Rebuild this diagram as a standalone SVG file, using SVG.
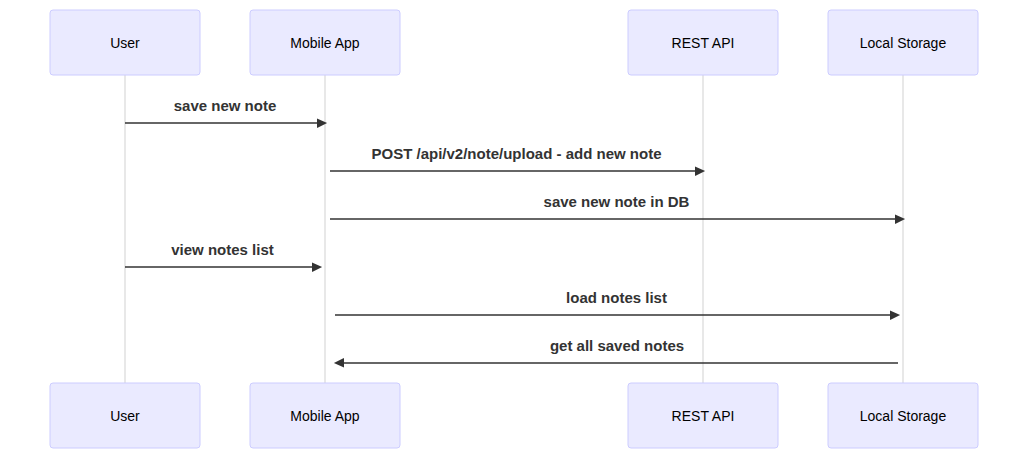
<svg xmlns="http://www.w3.org/2000/svg" width="1028" height="449" viewBox="0 0 1028 449">
<style>
.actor{fill:#eaeaff;stroke:#ccccff;stroke-width:1}
.atext{font-family:"Liberation Sans",Arial,sans-serif;font-size:14px;fill:#000;text-anchor:middle;dominant-baseline:central}
.life{stroke:#e0e0e0;stroke-width:1.5}
.msg{stroke:#333;stroke-width:1.5;fill:none;marker-end:url(#arrowhead)}
.mtext{font-family:"Liberation Sans",Arial,sans-serif;font-size:15px;font-weight:bold;fill:#333;text-anchor:middle}
</style>
<defs>
<marker id="arrowhead" refX="7.9" refY="5" markerUnits="userSpaceOnUse" markerWidth="12" markerHeight="12" orient="auto-start-reverse">
<path d="M -1 0 L 10 5 L 0 10 z" fill="#333"/>
</marker>
</defs>
<rect width="1028" height="449" fill="#fff"/>
<g id="lifelines">
<line class="life" x1="125" y1="75" x2="125" y2="383"/>
<line class="life" x1="325" y1="75" x2="325" y2="383"/>
<line class="life" x1="703" y1="75" x2="703" y2="383"/>
<line class="life" x1="903" y1="75" x2="903" y2="383"/>
</g>
<g id="user-top"><rect class="actor" x="50" y="10" width="150" height="65" rx="3"/><text class="atext" x="125" y="42.5">User</text></g>
<g id="app-top"><rect class="actor" x="250" y="10" width="150" height="65" rx="3"/><text class="atext" x="325" y="42.5">Mobile App</text></g>
<g id="api-top"><rect class="actor" x="628" y="10" width="150" height="65" rx="3"/><text class="atext" x="703" y="42.5">REST API</text></g>
<g id="storage-top"><rect class="actor" x="828" y="10" width="150" height="65" rx="3"/><text class="atext" x="903" y="42.5">Local Storage</text></g>
<g id="user-bottom"><rect class="actor" x="50" y="383" width="150" height="65" rx="3"/><text class="atext" x="125" y="415.5">User</text></g>
<g id="app-bottom"><rect class="actor" x="250" y="383" width="150" height="65" rx="3"/><text class="atext" x="325" y="415.5">Mobile App</text></g>
<g id="api-bottom"><rect class="actor" x="628" y="383" width="150" height="65" rx="3"/><text class="atext" x="703" y="415.5">REST API</text></g>
<g id="storage-bottom"><rect class="actor" x="828" y="383" width="150" height="65" rx="3"/><text class="atext" x="903" y="415.5">Local Storage</text></g>
<g id="connectors">
<line class="msg" x1="125" y1="123" x2="325" y2="123"/>
<text class="mtext" x="225" y="111">save new note</text>
<line class="msg" x1="330" y1="171" x2="703" y2="171"/>
<text class="mtext" x="516.5" y="159">POST /api/v2/note/upload - add new note</text>
<line class="msg" x1="330" y1="219" x2="903" y2="219"/>
<text class="mtext" x="616.5" y="207">save new note in DB</text>
<line class="msg" x1="125" y1="267" x2="320" y2="267"/>
<text class="mtext" x="222.5" y="255">view notes list</text>
<line class="msg" x1="335" y1="315" x2="898" y2="315"/>
<text class="mtext" x="616.5" y="303">load notes list</text>
<line class="msg" x1="898" y1="363" x2="336" y2="363"/>
<text class="mtext" x="617" y="351">get all saved notes</text>
</g>
</svg>
